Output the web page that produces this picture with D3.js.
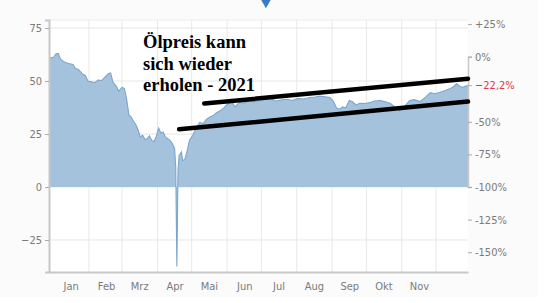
<!DOCTYPE html>
<html>
<head>
<meta charset="utf-8">
<script src="https://cdn.jsdelivr.net/npm/d3@7"></script>
<style>
  body { margin: 0; background: #fff; }
  svg { display: block; }
  .tick text { font-family: "DejaVu Sans Condensed", "DejaVu Sans", sans-serif; font-size: 11px; fill: #7a7a7a; }
</style>
</head>
<body>
<script>
// oil price 2020 (USD)
const dates = ["2019-12-28","2020-01-01","2020-01-03","2020-01-05","2020-01-07","2020-01-09","2020-01-12","2020-01-15",
  "2020-01-18","2020-01-20","2020-01-23","2020-01-26","2020-01-29","2020-01-31","2020-02-03","2020-02-06","2020-02-09",
  "2020-02-12","2020-02-15","2020-02-18","2020-02-20","2020-02-22","2020-02-25","2020-02-27","2020-03-01","2020-03-03",
  "2020-03-05","2020-03-07","2020-03-09","2020-03-11","2020-03-13","2020-03-15","2020-03-17","2020-03-19","2020-03-21",
  "2020-03-23","2020-03-25","2020-03-27","2020-03-29","2020-03-31","2020-04-02","2020-04-04","2020-04-06","2020-04-08",
  "2020-04-10","2020-04-12","2020-04-14","2020-04-16","2020-04-17","2020-04-18","2020-04-19","2020-04-20","2020-04-22",
  "2020-04-23","2020-04-25","2020-04-27","2020-04-29","2020-05-02","2020-05-05","2020-05-08","2020-05-11","2020-05-14",
  "2020-05-17","2020-05-20","2020-05-23","2020-05-26","2020-05-29","2020-06-02","2020-06-05","2020-06-08","2020-06-10",
  "2020-06-12","2020-06-16","2020-06-21","2020-06-25","2020-06-30","2020-07-05","2020-07-09","2020-07-14","2020-07-19",
  "2020-07-24","2020-07-28","2020-08-02","2020-08-07","2020-08-12","2020-08-17","2020-08-21","2020-08-26","2020-08-30",
  "2020-09-02","2020-09-05","2020-09-08","2020-09-10","2020-09-13","2020-09-16","2020-09-19","2020-09-22","2020-09-25",
  "2020-09-30","2020-10-04","2020-10-08","2020-10-13","2020-10-17","2020-10-22","2020-10-26","2020-10-30","2020-11-03",
  "2020-11-08","2020-11-12","2020-11-17","2020-11-22","2020-11-26","2020-11-30","2020-12-04","2020-12-09","2020-12-13",
  "2020-12-16","2020-12-19","2020-12-22","2020-12-24","2020-12-27","2020-12-29"];
const prices = [60.8,61.2,62.8,63.0,60.5,59.5,58.6,58.2,
  57.8,56.0,55.4,53.5,52.5,50.0,49.6,49.2,50.5,
  50.2,51.8,53.4,53.8,49.5,47.5,45.2,47.0,46.5,
  41.5,34.0,33.0,31.0,29.5,27.0,23.5,24.5,22.5,
  22.8,24.2,22.0,21.5,24.0,27.8,25.5,26.0,23.5,
  22.8,22.0,20.5,18.2,9.5,-37.5,8.0,15.0,16.5,
  12.5,13.0,17.0,22.0,24.5,27.8,30.5,29.8,32.0,
  33.0,33.8,35.2,36.0,37.2,39.5,40.2,37.8,39.0,
  40.0,39.6,40.8,40.2,40.9,41.3,41.7,40.6,41.2,
  41.4,40.8,41.8,41.5,42.2,42.5,42.9,42.6,42.2,
  40.5,37.2,36.8,37.8,37.4,40.8,40.2,38.6,39.5,
  39.4,39.8,40.6,40.8,40.3,39.4,37.8,36.0,37.8,
  40.8,41.2,40.3,42.5,44.5,44.0,44.6,45.5,46.4,
  47.2,48.7,47.6,47.0,47.6,47.85];

const monthLabels = ["Jan","Feb","Mrz","Apr","Mai","Jun","Jul","Aug","Sep","Okt","Nov"];
const leftTicks = [75, 50, 25, 0, -25];
const pctTicks = [25, 0, -50, -75, -100, -125, -150];
const basePrice = 61.5; // price at 0%

// hand-drawn trend channel (date, price)
const upperTrend = [["2020-05-12", 39.4], ["2020-12-29", 51.1]];
const lowerTrend = [["2020-04-20", 27.2], ["2020-12-29", 40.3]];
const noteLines = ["Ölpreis kann", "sich wieder", "erholen - 2021"];

const W = 548, H = 303;
const plot = { left: 49, right: 468, top: 20, bottom: 272 };
const parse = d3.timeParse("%Y-%m-%d");

const data = dates.map((d, i) => ({ date: parse(d), price: prices[i] }));

const svg = d3.select("body").append("svg").attr("width", W).attr("height", H);

svg.append("rect").attr("width", 538).attr("height", 297).attr("fill", "#fbfbfb");
svg.append("rect")
  .attr("x", plot.left).attr("y", plot.top)
  .attr("width", plot.right - plot.left).attr("height", plot.bottom - plot.top)
  .attr("fill", "#fff");

const x = d3.scaleTime()
  .domain([parse("2019-12-28"), parse("2020-12-29")])
  .range([plot.left, plot.right]);
const y = d3.scaleLinear().domain([-40.1, 78.8]).range([plot.bottom, plot.top]);
const yPct = d3.scaleLinear()
  .domain([-100, 0])
  .range([y(0), y(basePrice)]);

// grid
const monthStarts = d3.range(1, 12).map(m => new Date(2020, m, 1));
svg.append("g").selectAll("line").data(monthStarts).join("line")
  .attr("x1", d => x(d)).attr("x2", d => x(d))
  .attr("y1", plot.top).attr("y2", plot.bottom)
  .attr("stroke", "#e8e8e8");
svg.append("g").selectAll("line").data(leftTicks).join("line")
  .attr("x1", plot.left).attr("x2", plot.right)
  .attr("y1", d => y(d)).attr("y2", d => y(d))
  .attr("stroke", "#e6e6e6");
svg.append("line")
  .attr("x1", plot.left).attr("x2", plot.right)
  .attr("y1", plot.top).attr("y2", plot.top)
  .attr("stroke", "#ececec");

// area
svg.append("path").datum(data)
  .attr("fill", "#a4c2dc")
  .attr("d", d3.area().x(d => x(d.date)).y0(y(0)).y1(d => y(d.price)));
svg.append("path").datum(data)
  .attr("fill", "none").attr("stroke", "#7aa6d0").attr("stroke-width", 1.1)
  .attr("d", d3.line().x(d => x(d.date)).y(d => y(d.price)));

// axes
const leftAxis = svg.append("g").attr("transform", `translate(${plot.left},0)`)
  .call(d3.axisLeft(y).tickValues(leftTicks).tickSize(4).tickPadding(3));
const rightAxis = svg.append("g").attr("transform", `translate(${plot.right},0)`)
  .call(d3.axisRight(yPct).tickValues(pctTicks).tickSize(4).tickPadding(3)
    .tickFormat(d => (d > 0 ? "+" : "") + d + "%"));
const bottomAxis = svg.append("g").attr("transform", `translate(0,${plot.bottom})`)
  .call(d3.axisBottom(x)
    .tickValues(d3.range(0, 11).map(m => new Date(2020, m, 16)))
    .tickSize(0).tickPadding(10)
    .tickFormat((d, i) => monthLabels[i]));
[leftAxis, rightAxis, bottomAxis].forEach(g => {
  g.select(".domain").attr("stroke", "#c8c8c8").attr("stroke-width", 2);
  g.selectAll(".tick line").attr("stroke", "#aaa");
});
rightAxis.select(".domain").attr("stroke-width", 1.5);

// current change label
const last = data[data.length - 1].price;
const change = (last / basePrice - 1) * 100;
const cy = yPct(change);
rightAxis.append("line").attr("x1", 0).attr("x2", 4).attr("y1", cy).attr("y2", cy).attr("stroke", "#e8a0a0");
rightAxis.append("text")
  .attr("x", 7).attr("y", cy).attr("dy", "0.32em")
  .attr("font-family", "DejaVu Sans Condensed, DejaVu Sans, sans-serif")
  .attr("font-size", 11).attr("fill", "#e0393e")
  .text(d3.format(".1f")(change).replace(".", ",") + "%");

// trend channel
const trendLine = d3.line().x(d => x(parse(d[0]))).y(d => y(d[1]));
[upperTrend, lowerTrend].forEach(t => {
  svg.append("path").datum(t)
    .attr("fill", "none").attr("stroke", "#000").attr("stroke-width", 4.5)
    .attr("stroke-linecap", "round")
    .attr("d", trendLine);
});

// annotation
svg.append("text")
  .attr("font-family", "Liberation Serif, Times New Roman, serif")
  .attr("font-weight", "bold").attr("font-size", 18.5).attr("fill", "#000")
  .selectAll("tspan").data(noteLines).join("tspan")
  .attr("x", 143).attr("y", (d, i) => 48 + i * 21.5)
  .text(d => d);

// marker at the top
svg.append("path")
  .attr("d", d3.symbol(d3.symbolTriangle, 50)())
  .attr("transform", `translate(${x(parse("2020-07-05"))},2) rotate(180)`)
  .attr("fill", "#3b7cc7");
</script>
</body>
</html>
